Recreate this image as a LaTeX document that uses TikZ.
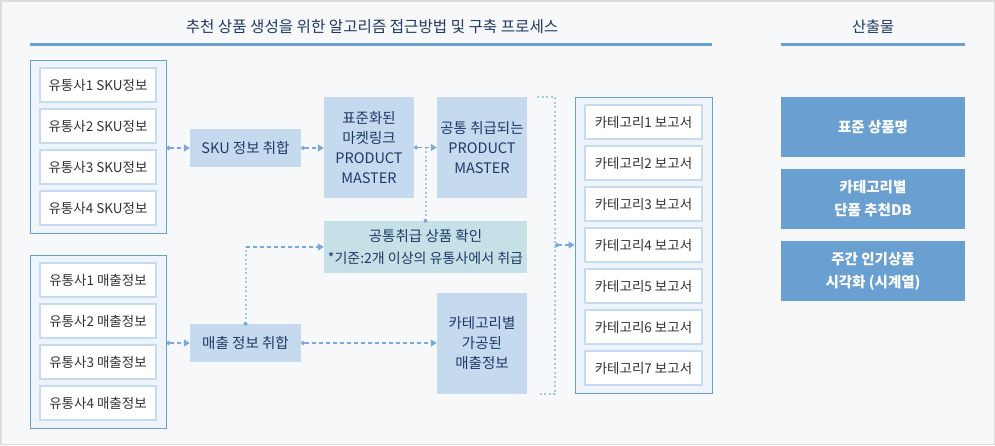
\documentclass[tikz,border=0pt]{standalone}
\usepackage{fontspec}
\setmainfont{Noto Sans CJK KR}
\usepackage{tikz}
\usetikzlibrary{arrows.meta,calc}

\definecolor{bgpage}{HTML}{F7F8FA}
\definecolor{frameline}{HTML}{DCDDDF}
\definecolor{navy}{HTML}{1E3A64}
\definecolor{mainblue}{HTML}{6A9FD2}
\definecolor{grpfill}{HTML}{EDF4FC}
\definecolor{itemline}{HTML}{C6DAF0}
\definecolor{procfill}{HTML}{C5D9EF}
\definecolor{checkfill}{HTML}{C5E0E6}
\definecolor{arrowblue}{HTML}{7AA8D8}
\definecolor{dotblue}{HTML}{A9C8E8}
\definecolor{itemtext}{HTML}{333333}

\begin{document}
\begin{tikzpicture}[x=1pt,y=-1pt,
		group/.style={draw=mainblue,line width=1pt,fill=grpfill,inner sep=0pt},
		item/.style={draw=itemline,line width=1.5pt,fill=white,minimum width=116pt,minimum height=34pt,inner sep=0pt,text=itemtext,font=\fontsize{13.5}{16}\selectfont},
		proc/.style={fill=procfill,inner sep=0pt,text=navy,align=center,font=\fontsize{14.5}{20}\selectfont},
		result/.style={fill=mainblue,minimum width=184pt,minimum height=60pt,inner sep=0pt,text=white,align=center,font=\fontsize{14.5}{23}\selectfont\bfseries},
		flow/.style={draw=arrowblue,line width=1.3pt,dash pattern=on 4pt off 3pt,{Circle[length=4pt,fill=arrowblue]}-{Triangle[length=6pt,width=7pt,fill=arrowblue]}},
		tipflow/.style={draw=arrowblue,line width=1.3pt,dash pattern=on 4pt off 3pt,-{Triangle[length=6pt,width=7pt,fill=arrowblue]}},
		dotline/.style={draw=dotblue,line width=2pt,dash pattern=on 2pt off 2.5pt}]
	\fill[bgpage] (0,0) rectangle (995,445);
	\draw[frameline,line width=1.5pt] (0.75,0.75) rectangle (994.25,444.25);
	\useasboundingbox (0,0) rectangle (995,445);

	% headings
	\node[text=navy,font=\fontsize{15.6}{18}\selectfont] (title) at (372,27) {추천 상품 생성을 위한 알고리즘 접근방법 및 구축 프로세스};
	\node[text=navy,font=\fontsize{15.2}{18}\selectfont] (outtitle) at (873,27) {산출물};
	\draw[mainblue,line width=3pt] (30,44) -- (712,44);
	\draw[mainblue,line width=3pt] (781,44) -- (965,44);

	% source groups
	\node[group,minimum width=136pt,minimum height=173pt] (grpsku) at (98,146.5) {};
	\node[group,minimum width=136pt,minimum height=173pt] (grpsale) at (98,341.5) {};
	\foreach \i in {1,...,4} {
		\node[item] (sku\i) at (98,44+41*\i) {유통사\i{} SKU정보};
		\node[item] (sale\i) at (98,239+41*\i) {유통사\i{} 매출정보};
	}

	% process boxes
	\node[proc,minimum width=111pt,minimum height=38pt] (skuagg) at (245.5,148) {SKU 정보 취합};
	\node[proc,minimum width=111pt,minimum height=38pt] (saleagg) at (245.5,343) {매출 정보 취합};
	\node[proc,minimum width=90pt,minimum height=101pt] (stdpm) at (369,147.5) {표준화된\\마켓링크\\PRODUCT\\MASTER};
	\node[proc,minimum width=90pt,minimum height=101pt] (compm) at (482,147.5) {공통 취급되는\\PRODUCT\\MASTER};
	\node[proc,fill=checkfill,minimum width=203pt,minimum height=52pt,font=\fontsize{14.5}{22}\selectfont] (check) at (425.5,247) {공통취급 상품 확인\\{\fontsize{14}{22}\selectfont *기준:2개 이상의 유통사에서 취급}};
	\node[proc,minimum width=90pt,minimum height=101pt] (catsale) at (482,343.5) {카테고리별\\가공된\\매출정보};

	% category reports
	\node[group,minimum width=137pt,minimum height=296pt] (grpcat) at (643.5,245) {};
	\foreach \i in {1,...,7} {
		\node[item,minimum width=117pt] (cat\i) at (643.5,81+41*\i) {카테고리\i{} 보고서};
	}

	% outputs
	\node[result] (out1) at (873,127) {표준 상품명};
	\node[result] (out2) at (873,199) {카테고리별\\단품 추천DB};
	\node[result] (out3) at (873,271) {주간 인기상품\\시각화 (시계열)};

	% connectors
	\draw[flow] (grpsku.east |- skuagg.west) -- (skuagg.west);
	\draw[flow] (skuagg.east) -- (stdpm.west |- skuagg.east);
	\draw[flow] (stdpm.east) -- (compm.west);
	\draw[dotline] (check.north) -- (check.north |- compm.west);
	\fill[arrowblue] (check.north) circle (2pt);
	\draw[flow] (grpsale.east |- saleagg.west) -- (saleagg.west);
	\draw[flow] (saleagg.east) -- (catsale.west |- saleagg.east);
	\coordinate (salejoin) at (saleagg.north |- check.west);
	\draw[dotline] (saleagg.north) -- (salejoin);
	\fill[arrowblue] (saleagg.north) circle (2pt);
	\draw[tipflow] (salejoin) -- (check.west);
	\coordinate (brk) at (555,245);
	\draw[dotline] ([xshift=10pt]compm.north east) -| (brk) |- ([xshift=10pt]catsale.south east);
	\draw[flow] (brk) -- (grpcat.west);
\end{tikzpicture}
\end{document}
